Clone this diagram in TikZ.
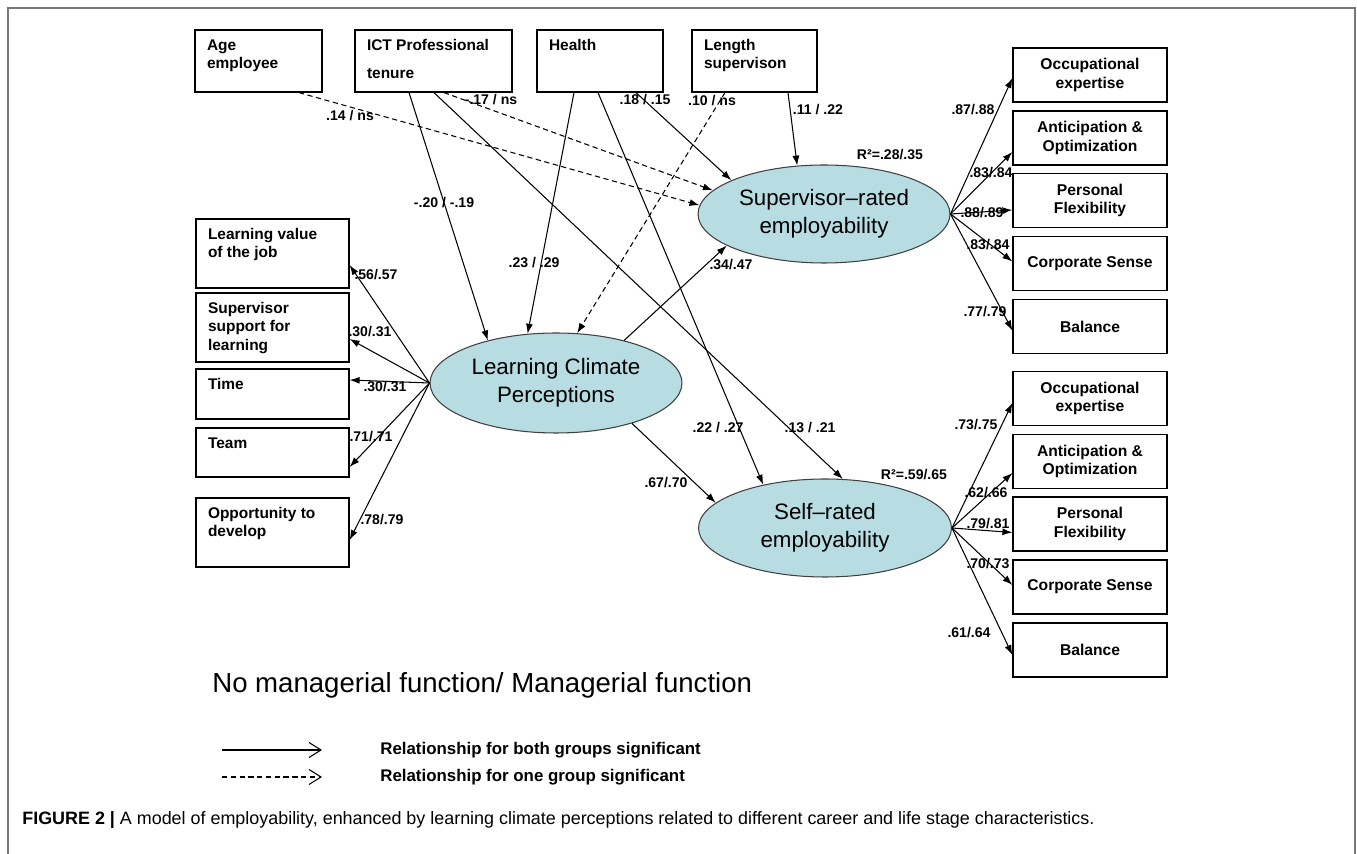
\documentclass[tikz,border=0pt]{standalone}
\usepackage{fontspec}
\setmainfont{Liberation Sans}
\usetikzlibrary{arrows.meta,calc,shapes.geometric}

\definecolor{climfill}{RGB}{183,221,227}
\definecolor{framegray}{RGB}{120,120,120}

% text in the boxes, set at the top left
\newcommand{\boxtxt}[3]{\parbox[c][#2][t]{#1}{\raggedright\rule{0pt}{0.41cm}#3}}

\begin{document}
\begin{tikzpicture}[x=0.02cm, y=-0.02cm,
  sig/.style={-{Latex[length=0.2cm,width=0.14cm]}, line width=0.6pt},
  onesig/.style={sig, dash pattern=on 3pt off 2pt},
  lbox/.style={draw, line width=0.7pt, inner xsep=0.24cm, inner ysep=0pt,
    font=\fontsize{8.8}{10.5}\selectfont\bfseries},
  rbox/.style={draw, line width=0.7pt, minimum width=3.08cm, minimum height=1.08cm,
    inner sep=0pt, align=center, font=\fontsize{8.9}{10.5}\selectfont\bfseries},
  latent/.style={ellipse, draw=black!75, fill=climfill, line width=0.6pt, inner sep=0pt,
    align=center, font=\fontsize{12.7}{15.9}\selectfont},
  coef/.style={inner sep=0pt, font=\fontsize{8}{9}\selectfont\bfseries}]
\useasboundingbox (0,0) rectangle (1357,854);

% Frame
\draw[framegray, line width=0.85pt] (8,854) -- (8,8) -- (1355,8) -- (1355,854);

% Career and life stage characteristics
\node[lbox] (age) at (258.5,61) {\boxtxt{2.06cm}{1.24cm}{Age\\employee}};
\node[lbox] (ict) at (433.5,61) {\boxtxt{2.66cm}{1.24cm}{ICT Professional\\[0.2cm]tenure}};
\node[lbox] (health) at (600,61) {\boxtxt{2.04cm}{1.24cm}{Health}};
\node[lbox] (length) at (754.5,61) {\boxtxt{2.02cm}{1.24cm}{Length\\supervison}};

% Learning climate dimensions
\node[lbox] (value) at (272.5,253.5) {\boxtxt{2.58cm}{1.38cm}{Learning value\\of the job}};
\node[lbox] (support) at (272.5,327.5) {\boxtxt{2.58cm}{1.38cm}{Supervisor\\support for\\learning}};
\node[lbox] (time) at (272.5,394) {\boxtxt{2.58cm}{1.0cm}{Time}};
\node[lbox] (team) at (272.5,452.5) {\boxtxt{2.58cm}{0.98cm}{Team}};
\node[lbox] (develop) at (272.5,532.5) {\boxtxt{2.58cm}{1.38cm}{Opportunity to\\develop}};

% Latent variables
\node[latent, minimum width=5.04cm, minimum height=2.0cm] (lcp) at (556,383) {Learning Climate\\Perceptions};
\node[latent, minimum width=5.04cm, minimum height=1.96cm] (sup) at (824,214) {Supervisor--rated\\employability};
\node[latent, minimum width=5.06cm, minimum height=1.96cm] (self) at (825,528) {Self--rated\\employability};

% Employability dimensions
\foreach \g/\y in {s/75, e/398.5} {
  \node[rbox] (\g occ) at (1090,\y) {Occupational\\expertise};
  \node[rbox] (\g ant) at (1090,\y+63) {Anticipation \&\\Optimization};
  \node[rbox] (\g pers) at (1090,\y+125.5) {Personal\\Flexibility};
  \node[rbox] (\g corp) at (1090,\y+188.5) {Corporate Sense};
  \node[rbox] (\g bal) at (1090,\y+251.5) {Balance};
}

% Paths from the characteristics
\draw[onesig] ($(age.south)+(40.5,0)$) -- (sup.176.4);
\draw[sig] ($(ict.south)+(-24.5,0)$) -- (lcp.148);
\draw[sig] ($(ict.south)+(0.5,0)$) -- (self.70);
\draw[onesig] ($(ict.south)+(10.5,0)$) -- (sup.168);
\draw[sig] ($(health.south)+(-26,0)$) -- (lcp.120);
\draw[sig] ($(health.south)+(-2,0)$) -- (self.145.6);
\draw[sig] ($(health.south)+(36,0)$) -- (sup.160.6);
\draw[onesig] ($(length.south)+(-29.5,0)$) -- (lcp.67.6);
\draw[sig] ($(length.south)+(33.5,0)$) -- (sup.119.6);

% Paths from learning climate
\draw[sig] (lcp.32) -- (sup.198.4);
\draw[sig] (lcp.-28.5) -- (self.167);
\foreach \b/\dy in {value/11.5, support/11.5, time/-14, team/14.5, develop/7.5}
  \draw[sig] (lcp.west) -- ($(\b.east)+(0,\dy)$);

% Loadings of employability
\foreach \b/\dy in {occ/3, ant/14, pers/9.5, corp/-2, bal/4}
  \draw[sig] (sup.east) -- ($(s\b.west)+(0,\dy)$);
\foreach \b/\dy in {occ/4.5, ant/11.5, pers/8.5, corp/-2, bal/5}
  \draw[sig] (self.east) -- ($(e\b.west)+(0,\dy)$);

% Coefficients
\foreach \n/\x/\y/\t in {a/350/116/{.14 / ns}, b/491/100/{-.17 / ns}, c/645/100/{.18 / .15},
    d/712/101/{.10 / ns}, e/818/110/{.11 / .22}, f/444/203/{-.20 / -.19},
    g/534/263/{.23 / .29}, h/731/265/{.34/.47}, i/718/428/{.22 / .27},
    j/810/428/{.13 / .21}, k/666/483/{.67/.70}, l/890/155/{R²=.28/.35},
    m/914/475/{R²=.59/.65}}
  \node[coef] (c\n) at (\x,\y) {\t};
\foreach \n/\x/\y/\t in {1/376/275/{.56/.57}, 2/370/332/{.30/.31}, 3/385/387/{.30/.31},
    4/371/437/{.71/.71}, 5/382/520/{.78/.79}}
  \node[coef] (cl\n) at (\x,\y) {\t};
\foreach \n/\x/\y/\t in {1/973/110/{.87/.88}, 2/991/173/{.83/.84}, 3/982/213/{.88/.89},
    4/988/245/{.83/.84}, 5/985/312/{.77/.79}, 6/976/425/{.73/.75}, 7/986/493/{.62/.66},
    8/988/524/{.79/.81}, 9/988/564/{.70/.73}, 10/969/633/{.61/.64}}
  \node[coef] (cr\n) at (\x,\y) {\t};

% Legend
\node[anchor=west, inner sep=0pt, font=\fontsize{15.7}{18}\selectfont] (groups) at (212,685)
  {No managerial function/ Managerial function};
\coordinate (both1) at (222,750);
\coordinate (both2) at (322,750);
\coordinate (one1) at (222,777);
\coordinate (one2) at (322,777);
\draw[line width=0.6pt, -{Straight Barb[length=0.24cm,width=0.3cm]}] (both1) -- (both2);
\draw[line width=0.6pt, dash pattern=on 3pt off 2pt, -{Straight Barb[length=0.24cm,width=0.3cm]}] (one1) -- (one2);
\node[anchor=west, inner sep=0pt, font=\fontsize{9.6}{11}\selectfont\bfseries] (bothtxt) at (380,750)
  {Relationship for both groups significant};
\node[anchor=west, inner sep=0pt, font=\fontsize{9.6}{11}\selectfont\bfseries] (onetxt) at (380,777)
  {Relationship for one group significant};

% Caption
\node[anchor=west, inner sep=0pt, font=\fontsize{10.2}{12}\selectfont] (caption) at (22,820)
  {\textbf{FIGURE 2 |} A model of employability, enhanced by learning climate perceptions related to different career and life stage characteristics.};
\end{tikzpicture}
\end{document}
